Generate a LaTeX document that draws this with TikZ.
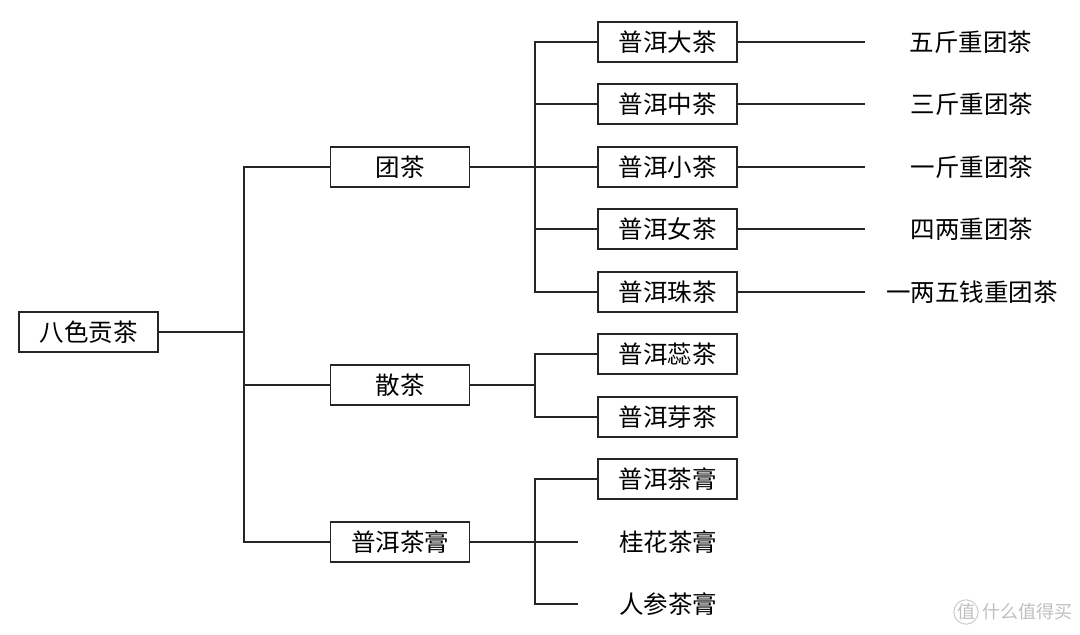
\documentclass[tikz,border=0pt]{standalone}
\usepackage{fontspec}
\setmainfont{Noto Sans CJK SC}
\begin{document}
\begin{tikzpicture}[x=1pt,y=-1pt,
  box/.style={draw=black!85, line width=1.3pt, minimum width=139pt, minimum height=40pt, inner sep=0pt, font=\fontsize{24.5}{24.5}\selectfont},
  lbl/.style={inner sep=0pt, font=\fontsize{24.5}{24.5}\selectfont},
  conn/.style={draw=black!85, line width=1.3pt},
  wm/.style={text=black!25, inner sep=0pt, font=\fontsize{18}{18}\selectfont}]
\fill[white] (0,0) rectangle (1080,635);
\useasboundingbox (0,0) rectangle (1080,635);
% level 1
\node[box] (root) at (88.5,332) {八色贡茶};
% level 2
\node[box] (tuan) at (400,167) {团茶};
\node[box] (san) at (400,385) {散茶};
\node[box] (gao) at (400,542) {普洱茶膏};
% level 3
\node[box] (da) at (667.5,42) {普洱大茶};
\node[box] (zhong) at (667.5,104) {普洱中茶};
\node[box] (xiao) at (667.5,167) {普洱小茶};
\node[box] (nv) at (667.5,229) {普洱女茶};
\node[box] (zhu) at (667.5,292) {普洱珠茶};
\node[box] (rui) at (667.5,354) {普洱蕊茶};
\node[box] (ya) at (667.5,417) {普洱芽茶};
\node[box] (pg) at (667.5,479) {普洱茶膏};
\node[lbl] (gh) at (668,542) {桂花茶膏};
\node[lbl] (rs) at (668,604) {人参茶膏};
% level 4
\node[lbl] (w1) at (971,42) {五斤重团茶};
\node[lbl] (w2) at (972,104) {三斤重团茶};
\node[lbl] (w3) at (972,167) {一斤重团茶};
\node[lbl] (w4) at (972,229) {四两重团茶};
\node[lbl] (w5) at (972,292) {一两五钱重团茶};
% junctions
\coordinate (j0) at (244,332);
\coordinate (j1) at (535,167);
\coordinate (j2) at (535,385);
\coordinate (j3) at (535,542);
\coordinate (e1) at (865,42);
\coordinate (e2) at (865,104);
\coordinate (e3) at (865,167);
\coordinate (e4) at (865,229);
\coordinate (e5) at (865,292);
\coordinate (g1) at (578,542);
\coordinate (g2) at (578,604);
% connectors
\draw[conn] (root.east) -- (j0);
\draw[conn] (tuan.west) -| (j0);
\draw[conn] (san.west) -| (j0);
\draw[conn] (gao.west) -| (j0);
\draw[conn] (tuan.east) -- (j1);
\foreach \n in {da,zhong,xiao,nv,zhu} \draw[conn] (\n.west) -| (j1);
\draw[conn] (san.east) -- (j2);
\draw[conn] (rui.west) -| (j2);
\draw[conn] (ya.west) -| (j2);
\draw[conn] (gao.east) -- (j3);
\draw[conn] (pg.west) -| (j3);
\draw[conn] (g1) -| (j3);
\draw[conn] (g2) -| (j3);
\draw[conn] (da.east) -- (e1);
\draw[conn] (zhong.east) -- (e2);
\draw[conn] (xiao.east) -- (e3);
\draw[conn] (nv.east) -- (e4);
\draw[conn] (zhu.east) -- (e5);
% watermark
\node[wm, draw=black!20, line width=1pt, circle, minimum size=23pt] (wmc) at (966,612) {值};
\node[wm, anchor=west] (wmt) at (982,612) {什么值得买};
\end{tikzpicture}
\end{document}
